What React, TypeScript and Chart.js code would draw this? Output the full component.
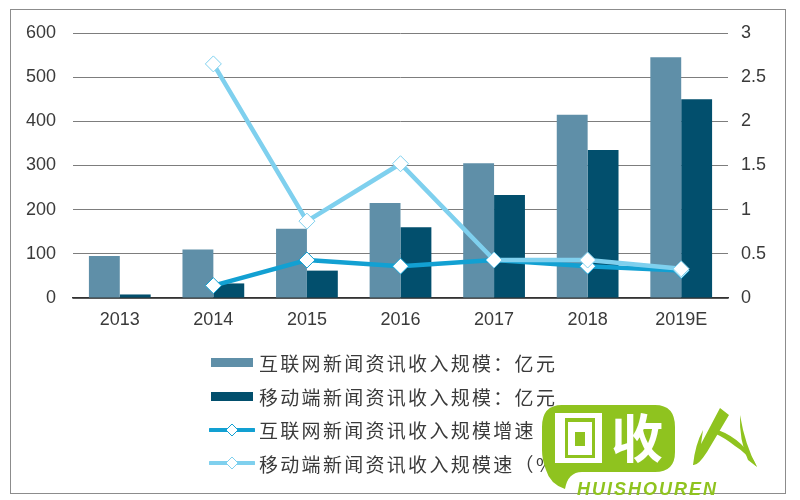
import { useEffect, useRef } from 'react';
import { Chart, registerables } from 'chart.js';

Chart.register(...registerables);

const categories = ['2013', '2014', '2015', '2016', '2017', '2018', '2019E'];
const webRevenue = [95, 110, 157, 215, 305, 415, 545];
const mobileRevenue = [8, 33, 62, 160, 233, 335, 450];
const webGrowth = [null, 0.14, 0.43, 0.36, 0.43, 0.36, 0.31];
const mobileGrowth = [null, 2.65, 0.87, 1.52, 0.43, 0.43, 0.33];

const seriesNames = [
  '互联网新闻资讯收入规模：亿元',
  '移动端新闻资讯收入规模：亿元',
  '互联网新闻资讯收入规模增速',
  '移动端新闻资讯收入规模速（%）',
];

const WEB_COLOR = '#5f8fa8';
const MOBILE_COLOR = '#024f6d';
const WEB_LINE = '#12a0d2';
const MOBILE_LINE = '#7fd0ee';
const LOGO_GREEN = '#8fc31f';
const TEXT = '#3a3a3a';
const FONT = '"Liberation Sans", Arial, sans-serif';

function LegendKey({ index }: { index: number }) {
  if (index < 2) {
    return (
      <span style={{ display: 'inline-block', flex: 'none', width: 42, height: 9, marginRight: 6, background: index === 0 ? WEB_COLOR : MOBILE_COLOR }} />
    );
  }
  const color = index === 2 ? WEB_LINE : MOBILE_LINE;
  return (
    <svg width={46} height={16} style={{ flex: 'none', marginLeft: -2, marginRight: 4 }}>
      <line x1={1} y1={8} x2={45} y2={8} stroke={color} strokeWidth={4} strokeLinecap="round" />
      <path d="M23 2 L29 8 L23 14 L17 8 Z" fill="#fff" stroke={color} strokeWidth={1} />
    </svg>
  );
}

export default function App() {
  const chartRef = useRef<HTMLCanvasElement>(null);

  useEffect(() => {
    document.body.style.margin = '0';
    if (!chartRef.current) return;

    const chart = new Chart(chartRef.current, {
      type: 'bar',
      data: {
        labels: categories,
        datasets: [
          { type: 'bar', label: seriesNames[0], data: webRevenue, backgroundColor: WEB_COLOR, yAxisID: 'y', order: 3 },
          { type: 'bar', label: seriesNames[1], data: mobileRevenue, backgroundColor: MOBILE_COLOR, yAxisID: 'y', order: 3 },
          {
            type: 'line',
            label: seriesNames[2],
            data: webGrowth,
            borderColor: WEB_LINE,
            borderWidth: 4.5,
            pointStyle: 'rectRot',
            pointRadius: 8,
            pointBorderWidth: 1,
            pointBackgroundColor: '#ffffff',
            pointBorderColor: WEB_LINE,
            yAxisID: 'y1',
            order: 2,
          },
          {
            type: 'line',
            label: seriesNames[3],
            data: mobileGrowth,
            borderColor: MOBILE_LINE,
            borderWidth: 4.5,
            pointStyle: 'rectRot',
            pointRadius: 8,
            pointBorderWidth: 1,
            pointBackgroundColor: '#ffffff',
            pointBorderColor: MOBILE_LINE,
            yAxisID: 'y1',
            order: 1,
          },
        ],
      },
      options: {
        animation: false,
        responsive: false,
        devicePixelRatio: 1,
        layout: { padding: { top: 33, bottom: 0, left: 0, right: 0 } },
        plugins: { legend: { display: false }, tooltip: { enabled: false } },
        datasets: { bar: { categoryPercentage: 0.66, barPercentage: 1 } },
        scales: {
          x: {
            grid: { display: false },
            border: { color: '#333333', width: 1.5 },
            ticks: { color: TEXT, font: { family: FONT, size: 18 }, padding: 3, maxRotation: 0 },
            afterFit: (scale) => { scale.height = 202; },
          },
          y: {
            position: 'left',
            min: 0,
            max: 600,
            grid: { color: '#7d7d7d', lineWidth: 1, drawTicks: false },
            border: { display: false },
            ticks: { stepSize: 100, color: TEXT, font: { family: FONT, size: 18 }, padding: 17 },
            afterFit: (scale) => { scale.width = 73; },
          },
          y1: {
            position: 'right',
            min: 0,
            max: 3,
            grid: { display: false, drawTicks: false },
            border: { display: false },
            ticks: {
              stepSize: 0.5,
              color: TEXT,
              font: { family: FONT, size: 18 },
              padding: 13,
              callback: (value) => String(value),
            },
            afterFit: (scale) => { scale.width = 72; },
          },
        },
      },
    });

    return () => chart.destroy();
  }, []);

  return (
    <div style={{ position: 'relative', width: 800, height: 500, background: '#fff', overflow: 'hidden' }}>
      <div style={{ position: 'absolute', left: 10, top: 9, width: 776, height: 485, border: '1.5px solid #8c8c8c', boxSizing: 'border-box' }} />
      <canvas ref={chartRef} width={800} height={500} style={{ position: 'absolute', left: 0, top: 0 }} />
      <div style={{ position: 'absolute', left: 211, top: 346, fontFamily: '"Noto Sans CJK SC", sans-serif', fontSize: 19, color: TEXT, letterSpacing: 2.3 }}>
        {seriesNames.map((name, i) => (
          <div key={name} style={{ display: 'flex', alignItems: 'center', height: 33.5, whiteSpace: 'nowrap' }}>
            <LegendKey index={i} />
            {name}
          </div>
        ))}
      </div>
      <svg width={250} height={100} style={{ position: 'absolute', left: 540, top: 400 }}>
        <path d="M22 5 H115 Q135 5 135 27 V52 Q135 72 115 72 H42 Q28 72 25 89 Q10 84 6 70 Q2 60 2 50 V27 Q2 5 22 5 Z" fill={LOGO_GREEN} />
        <rect x={15} y={13} width={47} height={50} fill="#fff" />
        <rect x={25} y={18} width={30} height={40} fill={LOGO_GREEN} />
        <rect x={28} y={22} width={24} height={33} fill="#fff" />
        <rect x={35} y={32} width={10} height={14} fill={LOGO_GREEN} />
        <text x={97} y={58} textAnchor="middle" fontFamily='"Noto Sans CJK SC", sans-serif' fontWeight={700} fontSize={52} fill="#fff">收</text>
        <text x={37} y={95} fontFamily='"Liberation Sans", sans-serif' fontWeight={700} fontStyle="italic" fontSize={18} letterSpacing={2} fill={LOGO_GREEN}>HUISHOUREN</text>
        <path d="M153 65 Q155 45 163 30 L161 44 L180 8 L189 15 L167 52 Q158 66 153 65 Z" fill={LOGO_GREEN} />
        <path d="M178 30 Q205 40 217 67 Q205 52 195 46 Q185 38 176 34 Z" fill={LOGO_GREEN} />
        <path d="M200 15 Q205 45 217 67 L208 60 Q199 40 200 15 Z" fill={LOGO_GREEN} />
      </svg>
    </div>
  );
}
